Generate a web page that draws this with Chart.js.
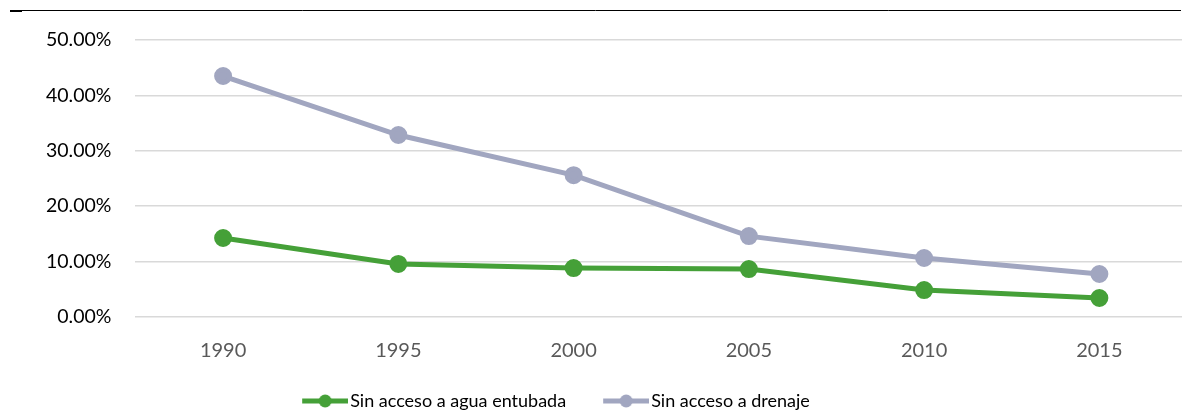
<!DOCTYPE html>
<html>
<head>
<meta charset="utf-8">
<script src="https://cdn.jsdelivr.net/npm/chart.js@4/dist/chart.umd.min.js"></script>
<style>
  html, body { margin: 0; padding: 0; background: #fff; overflow: hidden; }
  #wrap { width: 1187px; height: 417px; }
</style>
</head>
<body>
<div id="wrap"><canvas id="myChart"></canvas></div>
<script>
const years = ['1990', '1995', '2000', '2005', '2010', '2015'];
const sinAgua = [14.26, 9.57, 8.84, 8.66, 4.87, 3.43];
const sinDrenaje = [43.5, 32.85, 25.6, 14.6, 10.65, 7.76];
const seriesNames = ['Sin acceso a agua entubada', 'Sin acceso a drenaje'];
const colors = ['#45a038', '#a1a6c0'];

// legend marker: short line with a dot, transparent margin on the left
function marker(color) {
  const c = document.createElement('canvas');
  c.width = 78; c.height = 14;
  const g = c.getContext('2d');
  g.strokeStyle = color; g.lineWidth = 5;
  g.beginPath(); g.moveTo(32, 7); g.lineTo(78, 7); g.stroke();
  g.fillStyle = color;
  g.beginPath(); g.arc(55, 7, 6.5, 0, Math.PI * 2); g.fill();
  return c;
}

const topRule = {
  id: 'topRule',
  afterDraw(chart) {
    const ctx = chart.ctx;
    ctx.save();
    ctx.strokeStyle = '#000';
    ctx.lineWidth = 1;
    ctx.beginPath(); ctx.moveTo(10, 10.5); ctx.lineTo(1181, 10.5); ctx.stroke();
    ctx.lineWidth = 2;
    ctx.beginPath(); ctx.moveTo(10, 11); ctx.lineTo(22, 11); ctx.stroke();
    ctx.restore();
  }
};

// nudge the legend a bit left/down like the original
const legendShift = {
  id: 'legendShift',
  afterLayout(chart) {
    const lg = chart.legend;
    lg.left -= 61; lg.right -= 61;
    lg.top += 3; lg.bottom += 3;
  }
};

const ctx = document.getElementById('myChart').getContext('2d');
const chart = new Chart(ctx, {
  type: 'line',
  data: {
    labels: years,
    datasets: [
      {
        label: seriesNames[0],
        data: sinAgua,
        borderColor: colors[0],
        backgroundColor: colors[0],
        borderWidth: 5,
        pointRadius: 6.5,
        pointHoverRadius: 6.5,
        tension: 0
      },
      {
        label: seriesNames[1],
        data: sinDrenaje,
        borderColor: colors[1],
        backgroundColor: colors[1],
        borderWidth: 5,
        pointRadius: 6.5,
        pointHoverRadius: 6.5,
        tension: 0
      }
    ]
  },
  options: {
    responsive: true,
    maintainAspectRatio: false,
    animation: false,
    layout: { autoPadding: false, padding: { top: 40, right: 0, left: 22, bottom: 0 } },
    plugins: {
      tooltip: { enabled: false },
      legend: {
        position: 'bottom',
        labels: {
          usePointStyle: true,
          pointStyleWidth: 64,
          padding: 12,
          color: '#000',
          font: { family: 'Lato', size: 18 },
          generateLabels(chart) {
            return chart.data.datasets.map((ds, i) => ({
              text: ds.label,
              pointStyle: marker(colors[i]),
              fillStyle: colors[i],
              strokeStyle: colors[i],
              lineWidth: 0,
              fontColor: '#000',
              datasetIndex: i
            }));
          }
        }
      }
    },
    scales: {
      x: {
        offset: true,
        grid: { display: false },
        border: { display: false },
        ticks: { color: '#595959', font: { family: 'Lato', size: 20 }, padding: 14 }
      },
      y: {
        min: 0,
        max: 50,
        border: { display: false },
        grid: { color: '#d9d9d9', lineWidth: 1.5, drawTicks: false },
        ticks: {
          stepSize: 10,
          color: '#000',
          padding: 24,
          font: { family: 'Lato', size: 19.5 },
          callback: v => v.toFixed(2) + '%'
        }
      }
    }
  },
  plugins: [topRule, legendShift]
});
</script>
</body>
</html>
